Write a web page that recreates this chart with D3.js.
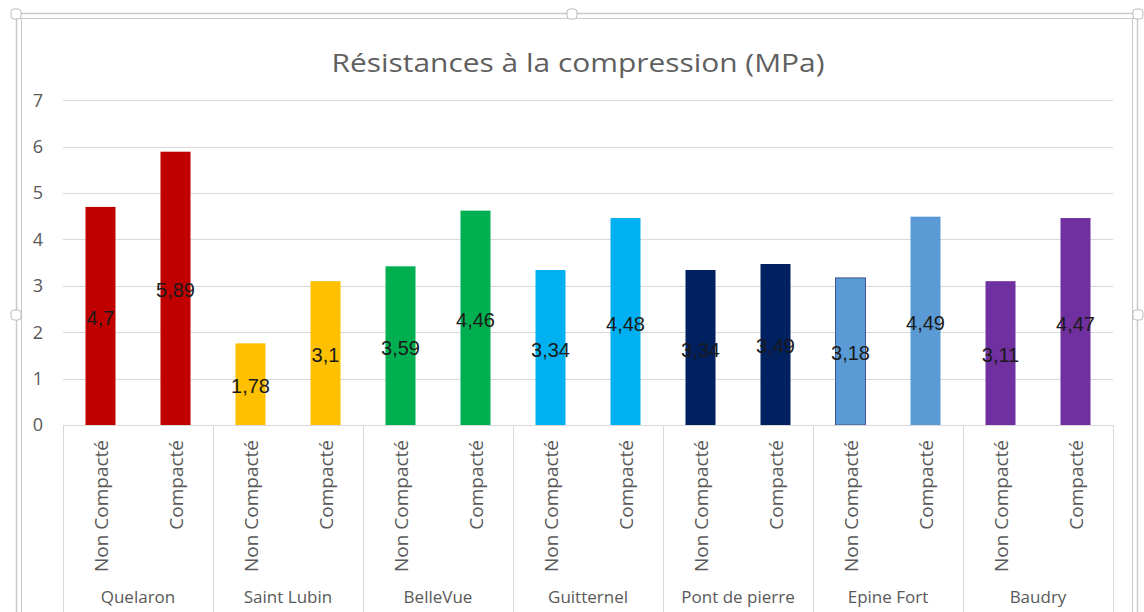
<!DOCTYPE html>
<html><head><meta charset="utf-8">
<script src="https://cdn.jsdelivr.net/npm/d3@7"></script>
<style>
html,body{margin:0;padding:0;background:#fff;}
svg{display:block;}
</style></head>
<body>
<svg id="chart" width="1144" height="612"></svg>
<script>
const title = "Résistances à la compression (MPa)";
const groups = ["Quelaron","Saint Lubin","BelleVue","Guitternel","Pont de pierre","Epine Fort","Baudry"];
const subCategories = ["Non Compacté","Compacté"];
const nonCompacteValues = [4.7, 1.76, 3.42, 3.34, 3.34, 3.17, 3.1];
const compacteValues = [5.89, 3.1, 4.62, 4.46, 3.47, 4.49, 4.46];
const nonCompacteLabels = ["4,7","1,78","3,59","3,34","3,34","3,18","3,11"];
const compacteLabels = ["5,89","3,1","4,46","4,48","3,49","4,49","4,47"];
const groupColors = ["#C00000","#FFC000","#00B050","#00B0F0","#002060","#5B9BD5","#7030A0"];
const yTicks = [0,1,2,3,4,5,6,7];

const svg = d3.select("#chart");

// frame (selection border)
const frameColor = "#c9c9c9";
svg.append("line").attr("x1",14).attr("x2",1138).attr("y1",13.5).attr("y2",13.5).attr("stroke",frameColor).attr("stroke-width",1.5);
svg.append("line").attr("x1",14).attr("x2",1138).attr("y1",18.5).attr("y2",18.5).attr("stroke",frameColor).attr("stroke-width",1);
svg.append("line").attr("x1",16.5).attr("x2",16.5).attr("y1",13).attr("y2",612).attr("stroke",frameColor).attr("stroke-width",1.5);
svg.append("line").attr("x1",21.5).attr("x2",21.5).attr("y1",18).attr("y2",612).attr("stroke",frameColor).attr("stroke-width",1);
svg.append("line").attr("x1",1137.5).attr("x2",1137.5).attr("y1",13).attr("y2",612).attr("stroke",frameColor).attr("stroke-width",1.5);
svg.append("line").attr("x1",1132.5).attr("x2",1132.5).attr("y1",18).attr("y2",612).attr("stroke",frameColor).attr("stroke-width",1);
[[16,14],[572,14],[1138,14],[16,315],[1138,315]].forEach(([hx,hy])=>{
  svg.append("rect").attr("x",hx-5).attr("y",hy-5).attr("width",10).attr("height",10).attr("rx",3)
    .attr("fill","#fff").attr("stroke","#bdbdbd").attr("stroke-width",1);
});

const x0 = d3.scaleBand().domain(groups).range([63,1113]).padding(0);
const x1 = d3.scaleBand().domain(subCategories).range([0, x0.bandwidth()]).paddingInner(0.6).paddingOuter(0.3);
const y = d3.scaleLinear().domain([0,7]).range([425,100.2]);

// title
svg.append("text").attr("x",578).attr("y",72).attr("text-anchor","middle")
  .attr("font-family","'Open Sans', sans-serif").attr("font-size",26).attr("fill","#5f5f5f")
  .attr("textLength",493).attr("lengthAdjust","spacingAndGlyphs").text(title);

// gridlines
svg.append("g").selectAll("line").data(yTicks.filter(t=>t>0)).join("line")
  .attr("x1",63).attr("x2",1113).attr("y1",d=>Math.round(y(d))+0.5).attr("y2",d=>Math.round(y(d))+0.5)
  .attr("stroke","#d9d9d9").attr("stroke-width",1);

// y tick labels
svg.append("g").selectAll("text").data(yTicks).join("text")
  .attr("x",38).attr("y",d=>y(d)).attr("dy","0.35em").attr("text-anchor","middle")
  .attr("font-family","'Open Sans', sans-serif").attr("font-size",18).attr("fill","#595959")
  .text(d=>d);

// data rows
const rows = groups.map((g,i)=>({
  group:g, color:groupColors[i],
  bars:[
    {sub:subCategories[0], value:nonCompacteValues[i], label:nonCompacteLabels[i]},
    {sub:subCategories[1], value:compacteValues[i], label:compacteLabels[i]}
  ]
}));

const gGroups = svg.append("g").selectAll("g").data(rows).join("g")
  .attr("transform",d=>`translate(${x0(d.group)},0)`);

gGroups.selectAll("rect").data(d=>d.bars.map(b=>({...b,color:d.color,group:d.group}))).join("rect")
  .attr("x",d=>x1(d.sub)).attr("width",x1.bandwidth())
  .attr("y",d=>y(d.value)).attr("height",d=>y(0)-y(d.value))
  .attr("fill",d=>d.color)
  .attr("stroke",d=>(d.group==="Epine Fort" && d.sub==="Non Compacté") ? "#44548f" : "none")
  .attr("stroke-width",1);

gGroups.selectAll("text.val").data(d=>d.bars).join("text").attr("class","val")
  .attr("x",d=>x1(d.sub)+x1.bandwidth()/2)
  .attr("y",d=>y(d.value/2)+2).attr("dy","0.35em").attr("text-anchor","middle")
  .attr("font-family","'Liberation Sans', Arial, sans-serif").attr("font-size",20).attr("fill","#1a1a1a")
  .text(d=>d.label);

// x axis baseline
svg.append("line").attr("x1",63).attr("x2",1113).attr("y1",425.5).attr("y2",425.5).attr("stroke","#d9d9d9");

// separators
const seps = groups.map(g=>x0(g)).concat([x0.range()[1]]);
svg.append("g").selectAll("line").data(seps).join("line")
  .attr("x1",d=>Math.round(d)+0.5).attr("x2",d=>Math.round(d)+0.5).attr("y1",425).attr("y2",612)
  .attr("stroke","#d9d9d9");

// sub category labels (rotated)
gGroups.selectAll("text.sub").data(d=>d.bars).join("text").attr("class","sub")
  .attr("transform",d=>`translate(${x1(d.sub)+x1.bandwidth()/2+1},440) rotate(-90)`)
  .attr("dy","0.35em").attr("text-anchor","end")
  .attr("font-family","'Open Sans', sans-serif").attr("font-size",19).attr("fill","#595959")
  .text(d=>d.sub);

// group labels
gGroups.append("text").attr("x",x0.bandwidth()/2).attr("y",597).attr("dy","0.35em").attr("text-anchor","middle")
  .attr("font-family","'Open Sans', sans-serif").attr("font-size",17).attr("fill","#595959")
  .text(d=>d.group);
</script>
</body></html>
